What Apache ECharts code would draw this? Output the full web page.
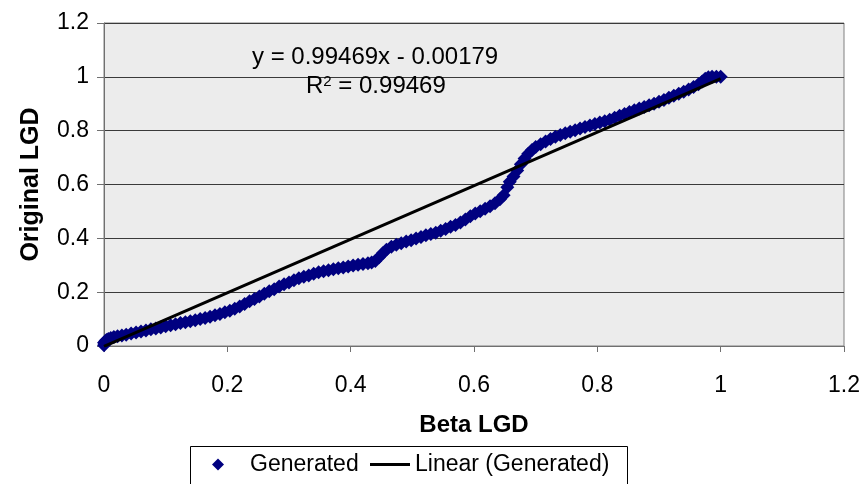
<!DOCTYPE html>
<html>
<head>
<meta charset="utf-8">
<script src="https://cdn.jsdelivr.net/npm/echarts@6/dist/echarts.min.js"></script>
<style>html,body{margin:0;padding:0;background:#fff}#c{width:863px;height:484px}</style>
</head>
<body>
<div id="c"></div>
<script>
// Data
var betaLGD = [0.000,0.000,0.002,0.004,0.007,0.011,0.016,0.022,0.029,0.036,0.044,0.052,0.060,0.068,0.076,0.084,0.092,0.100,0.108,0.116,0.124,0.132,0.140,0.148,0.156,0.164,0.172,0.180,0.188,0.196,0.204,0.212,0.220,0.228,0.236,0.244,0.252,0.260,0.268,0.276,0.284,0.292,0.300,0.308,0.316,0.324,0.332,0.340,0.348,0.356,0.364,0.372,0.380,0.388,0.396,0.404,0.412,0.420,0.428,0.434,0.440,0.446,0.452,0.458,0.466,0.474,0.482,0.490,0.498,0.506,0.514,0.522,0.530,0.538,0.546,0.554,0.562,0.570,0.578,0.586,0.594,0.602,0.610,0.618,0.626,0.634,0.642,0.648,0.654,0.658,0.664,0.670,0.676,0.682,0.688,0.694,0.700,0.708,0.716,0.724,0.732,0.740,0.748,0.756,0.764,0.772,0.780,0.788,0.796,0.804,0.812,0.820,0.828,0.836,0.844,0.852,0.860,0.868,0.876,0.884,0.892,0.900,0.908,0.916,0.924,0.932,0.940,0.948,0.956,0.964,0.970,0.975,0.980,0.986,0.993,1.000];
var originalLGD = [0.003,0.012,0.018,0.022,0.026,0.030,0.033,0.036,0.039,0.042,0.046,0.050,0.054,0.058,0.062,0.065,0.069,0.073,0.077,0.081,0.085,0.088,0.092,0.096,0.100,0.104,0.109,0.114,0.119,0.125,0.131,0.138,0.147,0.156,0.166,0.175,0.184,0.194,0.203,0.211,0.221,0.229,0.236,0.244,0.252,0.257,0.262,0.268,0.274,0.278,0.281,0.285,0.289,0.292,0.295,0.299,0.302,0.305,0.307,0.310,0.316,0.330,0.345,0.358,0.369,0.376,0.382,0.388,0.393,0.399,0.405,0.411,0.416,0.421,0.428,0.435,0.443,0.450,0.459,0.470,0.482,0.492,0.501,0.510,0.519,0.530,0.545,0.560,0.590,0.610,0.630,0.652,0.675,0.697,0.714,0.728,0.739,0.750,0.760,0.769,0.777,0.784,0.790,0.796,0.802,0.808,0.814,0.819,0.825,0.830,0.835,0.841,0.848,0.855,0.862,0.869,0.876,0.882,0.888,0.894,0.900,0.907,0.914,0.922,0.930,0.937,0.945,0.953,0.962,0.972,0.983,0.993,0.998,1.000,1.000,1.000];
var trendSlope = 0.99469;
var trendIntercept = -0.00179;
var trendRange = [0, 1];
var xTicks = [0, 0.2, 0.4, 0.6, 0.8, 1, 1.2];
var yTicks = [0, 0.2, 0.4, 0.6, 0.8, 1, 1.2];
var equationText = 'y = 0.99469x - 0.00179';
var r2Value = '0.99469';

var FONT = '"Liberation Sans", Arial, sans-serif';
var scatterData = betaLGD.map(function (x, i) { return [x, originalLGD[i]]; });
var trendData = trendRange.map(function (x) { return [x, trendSlope * x + trendIntercept]; });

var chart = echarts.init(document.getElementById('c'));
chart.setOption({
  backgroundColor: '#ffffff',
  animation: false,
  textStyle: { fontFamily: FONT },
  grid: {
    left: 104, right: 17, top: 23, bottom: 138,
    show: true, backgroundColor: '#ececec', borderColor: '#808080', borderWidth: 1
  },
  xAxis: {
    type: 'value', min: xTicks[0], max: xTicks[xTicks.length - 1], interval: 0.2,
    name: 'Beta LGD', nameLocation: 'middle', nameGap: 67,
    nameTextStyle: { fontFamily: FONT, fontSize: 24, fontWeight: 'bold', color: '#000' },
    axisLine: { show: true, lineStyle: { color: '#707070', width: 1 } },
    axisTick: { show: true, inside: false, length: 6, lineStyle: { color: '#707070' } },
    axisLabel: { margin: 28, fontFamily: FONT, fontSize: 23, color: '#000',
      formatter: function (v) { return String(Math.round(v * 10) / 10); } },
    splitLine: { show: false }
  },
  yAxis: {
    type: 'value', min: yTicks[0], max: yTicks[yTicks.length - 1], interval: 0.2,
    name: 'Original LGD', nameLocation: 'middle', nameGap: 60,
    nameTextStyle: { fontFamily: FONT, fontSize: 25, fontWeight: 'bold', color: '#000' },
    axisLine: { show: true, lineStyle: { color: '#707070', width: 1 } },
    axisTick: { show: true, inside: false, length: 7, lineStyle: { color: '#707070' } },
    axisLabel: { margin: 15, fontFamily: FONT, fontSize: 23, color: '#000',
      formatter: function (v) { return String(Math.round(v * 10) / 10); } },
    splitLine: { show: true, lineStyle: { color: '#3a3a3a', width: 1 } }
  },
  legend: [
    {
      data: [{ name: 'Generated', icon: 'path://M5,0L10,5L5,10L0,5Z' }],
      left: 212, top: 453, padding: 0, itemWidth: 12, itemHeight: 12, z: 10,
      textStyle: { fontFamily: FONT, fontSize: 23, color: '#000', padding: [0, 0, 0, 21] }
    },
    {
      data: [{ name: 'Linear (Generated)', icon: 'rect' }],
      left: 370, top: 453, padding: 0, itemWidth: 40, itemHeight: 3, z: 10,
      textStyle: { fontFamily: FONT, fontSize: 23, color: '#000' }
    }
  ],
  graphic: [
    { type: 'rect', z: 1, shape: { x: 190.5, y: 446.5, width: 437, height: 60 },
      style: { fill: '#ffffff', stroke: '#000000', lineWidth: 1 } },
    { type: 'text', z: 20, left: 252, top: 45,
      style: { text: equationText, font: '24px ' + FONT, fill: '#000' } },
    { type: 'text', z: 20, left: 306, top: 74,
      style: {
        text: '{a|R}{s|2}{a| = ' + r2Value + '}',
        rich: {
          a: { fontSize: 24, fontFamily: FONT, color: '#000' },
          s: { fontSize: 15, fontFamily: FONT, color: '#000', verticalAlign: 'top', padding: [0, 0, 10, 0] }
        }
      } }
  ],
  series: [
    {
      name: 'Generated', type: 'scatter', data: scatterData,
      symbol: 'diamond', symbolSize: 14, z: 2,
      itemStyle: { color: '#000080', opacity: 1 }
    },
    {
      name: 'Linear (Generated)', type: 'line', data: trendData,
      symbol: 'none', showSymbol: false, z: 3,
      lineStyle: { color: '#000000', width: 3 },
      itemStyle: { color: '#000000' }
    }
  ]
});
</script>
</body>
</html>
